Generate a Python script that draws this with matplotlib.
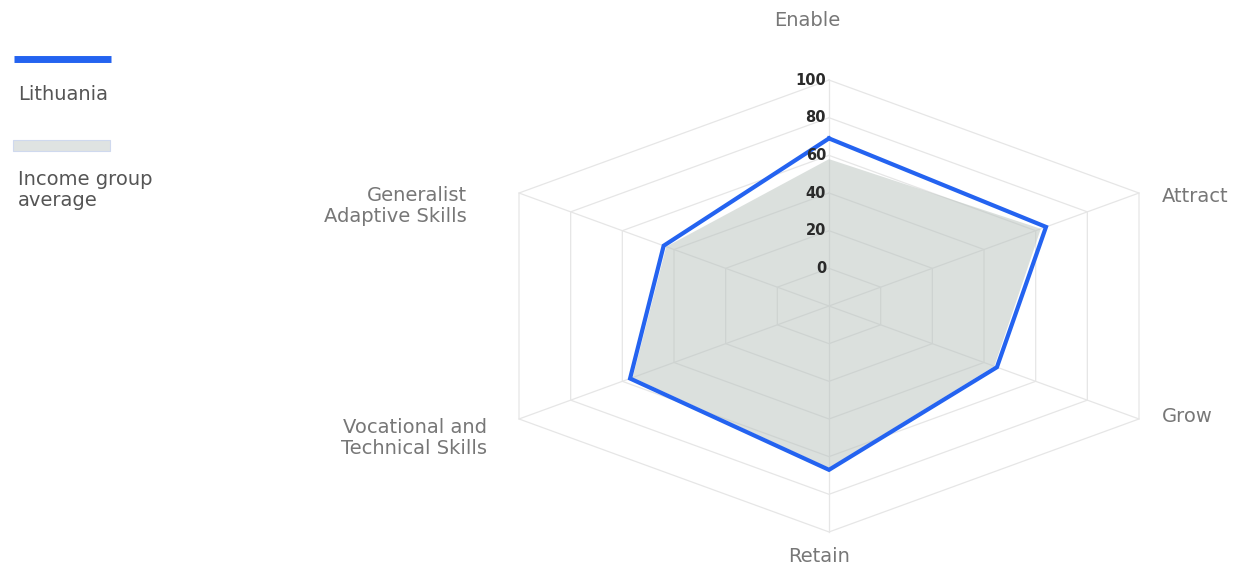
import numpy as np
import matplotlib.pyplot as plt
from matplotlib.patches import Rectangle

# radar data
categories = ['Enable', 'Attract', 'Grow', 'Retain',
              'Vocational and\nTechnical Skills', 'Generalist\nAdaptive Skills']
lithuania = [69, 64, 45, 67, 57, 44]
income_avg = [58, 62, 44, 66, 56, 43]
ticks = [0, 20, 40, 60, 80, 100]
r_min = -20  # scale starts below 0, like the original

W, H = 1248, 565
angles = np.arange(len(categories)) * 2 * np.pi / len(categories)


def to_xy(vals):
    r = np.asarray(vals, float) - r_min
    x = r * np.sin(angles)
    y = r * np.cos(angles)
    return np.append(x, x[0]), np.append(y, y[0])


def px(x, y):  # pixel position -> figure fraction
    return x / W, 1 - y / H


fig = plt.figure(figsize=(W / 100, H / 100), dpi=100)
ax = fig.add_axes([0, 0, 1, 1])
ax.axis('off')

# centre of the radar at (829, 306) px, stretched wider than tall
sx, sy = 2.983, 1.883  # px per unit
ax.set_xlim(-829 / sx, (W - 829) / sx)
ax.set_ylim(-(H - 306) / sy, 306 / sy)

# grid rings and spokes
r_max = ticks[-1] - r_min
for t in ticks:
    gx, gy = to_xy([t] * len(categories))
    ax.plot(gx, gy, color='#e6e6e6', lw=0.9, zorder=1)
for a in angles:
    ax.plot([0, r_max * np.sin(a)], [0, r_max * np.cos(a)], color='#e6e6e6', lw=0.9, zorder=1)

# income group average (filled) and Lithuania (line)
fx, fy = to_xy(income_avg)
ax.fill(fx, fy, color=(0.72, 0.76, 0.74, 0.5), lw=0, zorder=2)
lx, ly = to_xy(lithuania)
ax.plot(lx, ly, color='#2463f0', lw=3, solid_joinstyle='miter', zorder=3)

# tick labels on the top spoke
for t in ticks:
    ax.text(-1.0, t - r_min, str(t), ha='right', va='center', fontsize=10.5,
            fontweight='bold', color='#2a2a2a', zorder=4)

# axis labels
lab = dict(color='#777777', fontsize=14, linespacing=1.15)
fig.text(*px(807, 20), categories[0], ha='center', va='center', **lab)
fig.text(*px(1162, 196), categories[1], ha='left', va='center', **lab)
fig.text(*px(1162, 416), categories[2], ha='left', va='center', **lab)
fig.text(*px(819, 557), categories[3], ha='center', va='center', **lab)
fig.text(*px(487, 438), categories[4], ha='right', va='center', multialignment='right', **lab)
fig.text(*px(467, 206), categories[5], ha='right', va='center', multialignment='right', **lab)

# legend (swatch above text)
ax.plot([14 / W, 111 / W], [1 - 59 / H, 1 - 59 / H], color='#2463f0', lw=5,
        solid_capstyle='butt', transform=fig.transFigure, clip_on=False)
fig.text(*px(18, 94), 'Lithuania', ha='left', va='center', color='#555555', fontsize=14)
fig.patches.append(Rectangle(px(13, 151), 97 / W, 11 / H, facecolor='#dfe3e2',
                             edgecolor='#cfd9ee', lw=0.8, transform=fig.transFigure))
fig.text(*px(18, 190), 'Income group\naverage', ha='left', va='center', color='#555555',
         fontsize=14, linespacing=1.15)

fig.savefig('out.png', dpi=100)
